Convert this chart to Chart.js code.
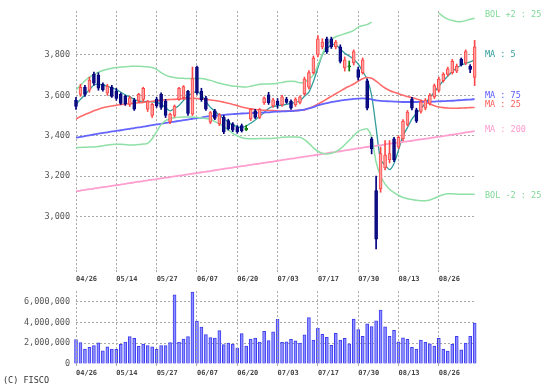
<!DOCTYPE html>
<html><head><meta charset="utf-8">
<script src="https://cdn.jsdelivr.net/npm/chart.js@4.4.1/dist/chart.umd.min.js"></script>
<style>
html,body{margin:0;padding:0;background:#fff;}
#wrap{position:relative;width:545px;height:388px;overflow:hidden;background:#fff;}
canvas{position:absolute;left:0;}
#cMain{top:0;}
#cVol{top:280px;}
.lbl{position:absolute;font:8.5px "DejaVu Sans Mono",monospace;white-space:pre;line-height:10px;}
</style></head><body>
<div id="wrap">
<canvas id="cMain" width="545" height="290" style="width:545px;height:290px"></canvas>
<canvas id="cVol" width="545" height="108" style="width:545px;height:108px"></canvas>
<div class="lbl" style="left:485px;top:9px;color:#80d898">BOL +2 : 25</div>
<div class="lbl" style="left:485px;top:49px;color:#2f9a9a">MA : 5</div>
<div class="lbl" style="left:485px;top:90px;color:#5a5aff">MA : 75</div>
<div class="lbl" style="left:485px;top:99px;color:#ff5a5a">MA : 25</div>
<div class="lbl" style="left:485px;top:124px;color:#ff99cc">MA : 200</div>
<div class="lbl" style="left:485px;top:190px;color:#80d898">BOL -2 : 25</div>
<div class="lbl" style="left:3px;top:375px;color:#333">(C) FISCO</div>
</div>
<script>
const dates = ["04/26","04/30","05/01","05/02","05/07","05/08","05/09","05/10","05/13","05/14",
"05/15","05/16","05/17","05/20","05/21","05/22","05/23","05/24","05/27","05/28",
"05/29","05/30","05/31","06/03","06/04","06/05","06/06","06/07","06/10","06/11",
"06/12","06/13","06/14","06/17","06/18","06/19","06/20","06/21","06/24","06/25",
"06/26","06/27","06/28","07/01","07/02","07/03","07/04","07/05","07/08","07/09",
"07/10","07/11","07/12","07/16","07/17","07/18","07/19","07/22","07/23","07/24",
"07/25","07/26","07/29","07/30","07/31","08/01","08/02","08/05","08/06","08/07",
"08/08","08/09","08/13","08/14","08/15","08/16","08/19","08/20","08/21","08/22",
"08/23","08/26","08/27","08/28","08/29","08/30","09/02","09/03","09/04","09/05"];

const open = [3575,3605,3640,3625,3705,3700,3655,3610,3640,3620,
3605,3595,3555,3575,3572,3580,3532,3500,3580,3605,
3570,3468,3500,3580,3588,3620,3507,3740,3620,3587,
3467,3523,3460,3491,3475,3459,3443,3450,3436,3483,
3523,3491,3563,3603,3548,3571,3552,3581,3571,3552,
3565,3608,3640,3712,3800,3840,3880,3880,3840,3840,
3736,3746,3760,3728,3712,3672,3384,3128,3136,3240,
3280,3384,3344,3384,3456,3581,3528,3520,3536,3560,
3592,3624,3672,3704,3712,3720,3779,3760,3744,3688];
const high = [3590,3655,3650,3690,3715,3712,3662,3655,3650,3635,
3612,3600,3595,3585,3610,3640,3575,3560,3590,3612,
3580,3512,3552,3640,3648,3625,3740,3745,3635,3595,
3520,3530,3510,3500,3482,3465,3450,3458,3452,3535,
3530,3535,3592,3615,3585,3584,3600,3590,3578,3588,
3598,3690,3722,3795,3896,3880,3888,3888,3872,3850,
3790,3770,3825,3740,3785,3680,3392,3200,3344,3376,
3376,3392,3400,3480,3525,3590,3536,3576,3584,3608,
3656,3690,3712,3740,3778,3755,3785,3825,3752,3872];
const low = [3530,3595,3595,3615,3650,3625,3620,3600,3590,3575,
3555,3550,3545,3525,3565,3570,3520,3490,3540,3530,
3490,3460,3492,3575,3580,3500,3500,3605,3570,3525,
3460,3480,3450,3410,3428,3420,3412,3418,3425,3475,
3485,3485,3555,3555,3540,3536,3545,3560,3530,3545,
3558,3600,3632,3705,3790,3830,3808,3832,3830,3760,
3720,3720,3750,3675,3705,3528,3310,2840,3120,3230,
3265,3272,3336,3376,3448,3528,3465,3512,3528,3552,
3584,3616,3665,3696,3705,3712,3745,3752,3712,3648];
const close = [3545,3640,3605,3675,3660,3635,3628,3645,3595,3585,
3560,3558,3587,3532,3605,3635,3571,3555,3547,3540,
3500,3507,3547,3635,3643,3510,3683,3612,3578,3531,
3515,3485,3504,3419,3435,3427,3419,3424,3430,3531,
3491,3531,3587,3563,3578,3552,3592,3565,3536,3581,
3592,3680,3712,3784,3880,3864,3816,3840,3864,3768,
3776,3740,3816,3688,3776,3536,3336,2888,3312,3304,
3312,3280,3392,3472,3517,3536,3472,3568,3576,3600,
3648,3680,3704,3731,3768,3744,3752,3816,3728,3840];
const volume = [2340000,2060000,1430000,1600000,1770000,2030000,1260000,1660000,1430000,1400000,
1890000,2110000,2630000,2460000,1690000,1910000,1770000,1660000,1400000,1770000,
1770000,2060000,6630000,2110000,2400000,2630000,6910000,4110000,3540000,2830000,
2540000,2490000,3200000,1860000,2000000,1910000,1540000,2910000,1710000,2400000,
2490000,2110000,3140000,2260000,3100000,4300000,2090000,2140000,2370000,2230000,
2000000,2800000,4460000,2290000,3430000,2860000,2570000,1800000,2940000,2290000,
2460000,1940000,4310000,3310000,2660000,3860000,3600000,4140000,5170000,3570000,
2660000,3230000,2140000,2510000,2370000,1600000,1430000,2290000,2090000,1940000,
1710000,2460000,1430000,1230000,1890000,2660000,1370000,2000000,2660000,3940000];
const ma5 = [3555,3580,3603,3628,3651,3655,3651,3645,3637,3628,
3615,3603,3592,3580,3571,3570,3569,3568,3565,3555,
3539,3523,3535,3550,3575,3598,3610,3619,3600,3570,
3540,3522,3500,3485,3468,3452,3445,3440,3448,3462,
3478,3495,3515,3535,3545,3548,3552,3555,3560,3565,
3572,3595,3616,3668,3735,3800,3830,3850,3850,3830,
3808,3795,3778,3755,3718,3680,3600,3440,3280,3255,
3232,3262,3330,3400,3440,3482,3510,3535,3560,3590,
3616,3645,3672,3695,3718,3735,3750,3758,3766,3776];
const ma25 = [3483,3495,3505,3514,3523,3531,3538,3543,3547,3551,
3554,3557,3559,3561,3563,3565,3567,3570,3573,3576,
3578,3579,3580,3582,3583,3584,3585,3584,3582,3580,
3577,3574,3571,3566,3561,3555,3549,3542,3537,3533,
3530,3528,3526,3525,3524,3523,3522,3522,3523,3524,
3526,3528,3536,3545,3556,3568,3582,3595,3608,3621,
3634,3645,3656,3670,3682,3688,3684,3670,3652,3636,
3624,3615,3608,3600,3594,3588,3582,3575,3566,3557,
3548,3542,3539,3537,3536,3536,3537,3538,3539,3540];
const ma75 = [3390,3394,3398,3402,3406,3410,3414,3417,3421,3424,
3427,3431,3434,3438,3441,3445,3448,3452,3456,3459,
3463,3466,3470,3473,3477,3480,3484,3487,3490,3494,
3497,3499,3501,3503,3505,3507,3508,3510,3511,3512,
3513,3514,3515,3516,3518,3519,3520,3521,3522,3524,
3526,3529,3535,3542,3550,3556,3561,3566,3570,3574,
3577,3580,3582,3584,3585,3584,3580,3575,3572,3571,
3570,3569,3568,3567,3567,3567,3567,3567,3568,3568,
3569,3570,3571,3572,3573,3575,3576,3578,3579,3581];
const ma200 = [3125,3128,3132,3135,3138,3142,3145,3148,3152,3155,
3158,3162,3165,3169,3172,3175,3179,3182,3185,3189,
3192,3195,3199,3202,3205,3209,3212,3215,3219,3222,
3225,3229,3232,3236,3239,3242,3246,3249,3252,3256,
3259,3262,3266,3269,3272,3276,3279,3283,3286,3289,
3293,3296,3299,3303,3306,3310,3313,3317,3320,3323,
3327,3330,3334,3337,3341,3344,3347,3350,3353,3357,
3360,3363,3366,3369,3372,3375,3379,3382,3385,3388,
3392,3395,3398,3402,3405,3409,3412,3416,3419,3423];
const bolUpper = [3627,3650,3672,3690,3702,3714,3723,3729,3734,3738,
3740,3742,3743,3744,3744,3743,3741,3738,3728,3712,
3700,3692,3688,3685,3684,3683,3683,3683,3683,3680,
3674,3667,3660,3655,3650,3646,3644,3642,3641,3645,
3650,3655,3656,3656,3657,3660,3664,3668,3670,3668,
3662,3665,3680,3700,3750,3805,3850,3875,3890,3898,
3905,3912,3922,3938,3945,3950,3962,null,null,null,
null,null,null,null,null,null,null,null,null,null,
null,4007,3990,3977,3970,3966,3965,3970,3977,3982];
const bolLower = [3341,3342,3343,3344,3344,3346,3350,3354,3357,3358,
3358,3356,3354,3354,3356,3359,3362,3385,3420,3455,
3475,3484,3489,3492,3493,3493,3492,3491,3488,3485,
3482,3470,3459,3445,3428,3412,3400,3390,3386,3385,
3385,3386,3386,3386,3387,3389,3392,3394,3394,3394,
3392,3380,3362,3340,3323,3313,3310,3313,3321,3335,
3355,3377,3400,3422,3430,3434,3392,3270,3200,3160,
3135,3118,3105,3094,3088,3084,3080,3078,3078,3082,
3090,3100,3108,3112,3112,3111,3110,3110,3110,3110];

const priceTicks = [3000,3200,3400,3600,3800];
const volumeTicks = [0,2000000,4000000,6000000];
const xTickIdx = [0,9,18,27,36,45,54,63,72,81];

const idx = dates.map((d, i) => i);
const GRID = '#a8a8a8';
const DASH = [2,2];

function kind(i){ const d = close[i] - open[i]; if (Math.abs(d) <= 8) return 'flat'; return d > 0 ? 'up' : 'down'; }
const fillCol = {up:'#ffa0a0', down:'#101080', flat:'#1a8a1a'};
const edgeCol = {up:'#ff4848', down:'#000080', flat:'#0a7a0a'};

function lineDS(label, data, color, width){
  return {type:'line', label, data, borderColor:color, borderWidth:width, pointRadius:0,
    tension:0.25, spanGaps:false, fill:false, order:2};
}

const xCommon = {
  type:'linear', min:0, max:89.3, offset:false,
  afterBuildTicks(s){ s.ticks = xTickIdx.map(v => ({value:v})); },
  grid:{color:GRID, lineWidth:1, borderDash:DASH, drawTicks:true, tickLength:4, tickBorderDash:DASH, tickColor:GRID, offset:false},
  border:{display:false, dash:DASH},
  ticks:{align:'start', padding:1, autoSkip:false, maxRotation:0, color:'#444',
    font:{family:'DejaVu Sans Mono', size:7, weight:'bold'},
    callback:(v) => dates[v]}
};

new Chart(document.getElementById('cMain'), {
  type:'bar',
  data:{labels:idx, datasets:[
    lineDS('BOL +2', bolUpper, '#8fe0a6', 1.5),
    lineDS('BOL -2', bolLower, '#8fe0a6', 1.5),
    lineDS('MA200', ma200, '#ff9fcf', 1.8),
    lineDS('MA75', ma75, '#6464ff', 1.8),
    lineDS('MA25', ma25, '#ff6a6a', 1.6),
    lineDS('MA5', ma5, '#339c9c', 1.3),
    {type:'bar', label:'wick', data: low.map((l,i)=>[l, high[i]]), barThickness:1, grouped:false,
      backgroundColor:(c)=>edgeCol[kind(c.dataIndex)], borderWidth:0, clip:false, order:1},
    {type:'bar', label:'body', data: open.map((o,i)=>[o, close[i]]), barThickness:3, grouped:false,
      backgroundColor:(c)=>fillCol[kind(c.dataIndex)], borderColor:(c)=>edgeCol[kind(c.dataIndex)],
      borderWidth:1, borderSkipped:false, clip:false, order:0}
  ]},
  options:{
    responsive:false, maintainAspectRatio:false, animation:false, devicePixelRatio:1,
    layout:{padding:{top:4, right:69, left:0, bottom:0}},
    plugins:{legend:{display:false}, tooltip:{enabled:false}},
    scales:{
      x: Object.assign({}, xCommon, {afterFit(s){ s.height = 20; }}),
      y:{type:'linear', min:2735, max:4017,
        afterBuildTicks(s){ s.ticks = priceTicks.map(v => ({value:v})); },
        afterFit(s){ s.width = 76; },
        grid:{color:GRID, lineWidth:1, borderDash:DASH, drawTicks:false},
        border:{display:false, dash:DASH},
        ticks:{padding:6, color:'#555', font:{family:'DejaVu Sans Mono', size:8.5},
          callback:(v) => v.toLocaleString('en-US')}
      }
    }
  }
});

new Chart(document.getElementById('cVol'), {
  type:'bar',
  data:{labels:idx, datasets:[
    {label:'volume', data:volume, barThickness:3, grouped:false,
     backgroundColor:'#9090ff', borderColor:'#3c3cf0', borderWidth:1, borderSkipped:'start', clip:false}
  ]},
  options:{
    responsive:false, maintainAspectRatio:false, animation:false, devicePixelRatio:1,
    layout:{padding:{top:2, right:69, left:0, bottom:0}},
    plugins:{legend:{display:false}, tooltip:{enabled:false}},
    scales:{
      x: Object.assign({}, xCommon, {afterFit(s){ s.height = 24; },
        grid:Object.assign({}, xCommon.grid, {z:1})}),
      y:{type:'linear', min:0, max:7000000,
        afterBuildTicks(s){ s.ticks = volumeTicks.map(v => ({value:v})); },
        afterFit(s){ s.width = 76; },
        grid:{color:(c)=> c.tick && c.tick.value === 0 ? 'rgba(0,0,0,0)' : GRID, lineWidth:1, borderDash:DASH, drawTicks:false},
        border:{display:false, dash:DASH},
        ticks:{padding:6, color:'#555', font:{family:'DejaVu Sans Mono', size:8.5},
          callback:(v) => v.toLocaleString('en-US')}
      }
    }
  }
});
</script>
</body></html>
